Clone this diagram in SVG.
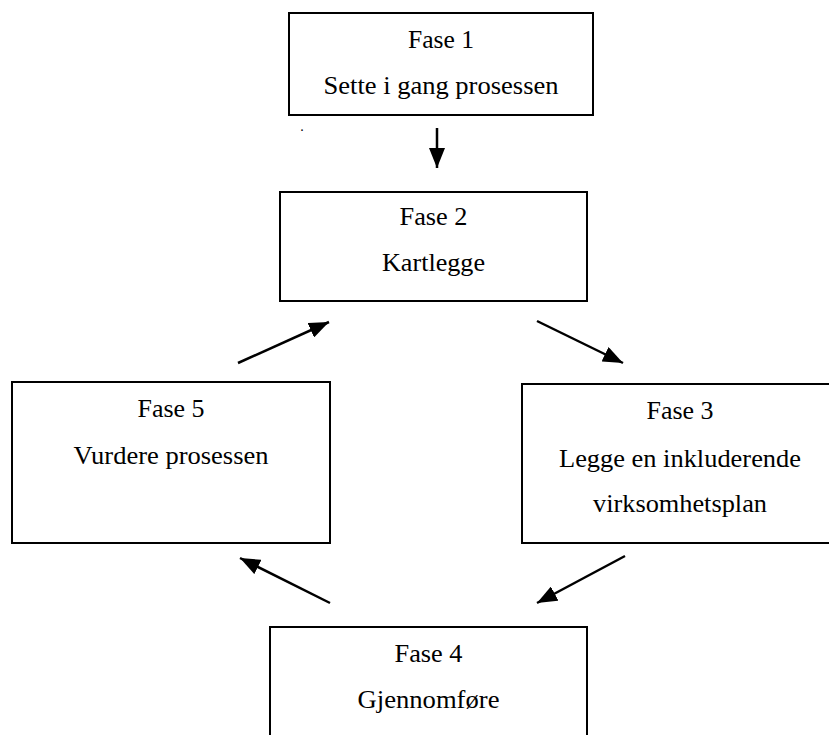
<svg xmlns="http://www.w3.org/2000/svg" width="829" height="735" viewBox="0 0 829 735">
  <style>
    .box { fill: #ffffff; stroke: #000000; stroke-width: 2; }
    .lbl { font-family: "Liberation Serif", "Times New Roman", serif; font-size: 24.5px; fill: #000000; text-anchor: middle; }
    .conn { stroke: #000000; stroke-width: 2.5; fill: none; marker-end: url(#head); }
  </style>
  <defs>
    <marker id="head" markerUnits="userSpaceOnUse" markerWidth="20" markerHeight="16" refX="20" refY="8" orient="auto">
      <path d="M0,0 L20,8 L0,16 Z" fill="#000000"/>
    </marker>
  </defs>
  <rect width="829" height="735" fill="#ffffff"/>

  <g id="fase1">
    <rect class="box" x="289" y="13" width="304" height="102"/>
    <text class="lbl" x="441" y="48" textLength="66" lengthAdjust="spacingAndGlyphs">Fase 1</text>
    <text class="lbl" x="441" y="94" textLength="235" lengthAdjust="spacingAndGlyphs">Sette i gang prosessen</text>
  </g>

  <g id="fase2">
    <rect class="box" x="280" y="192" width="307" height="109"/>
    <text class="lbl" x="433.5" y="225" textLength="68" lengthAdjust="spacingAndGlyphs">Fase 2</text>
    <text class="lbl" x="433.5" y="271" textLength="103" lengthAdjust="spacingAndGlyphs">Kartlegge</text>
  </g>

  <g id="fase3">
    <rect class="box" x="522" y="384" width="316" height="159"/>
    <text class="lbl" x="680" y="419" textLength="67" lengthAdjust="spacingAndGlyphs">Fase 3</text>
    <text class="lbl" x="680" y="467" textLength="242" lengthAdjust="spacingAndGlyphs">Legge en inkluderende</text>
    <text class="lbl" x="680" y="512" textLength="174" lengthAdjust="spacingAndGlyphs">virksomhetsplan</text>
  </g>

  <g id="fase4">
    <rect class="box" x="270" y="627" width="317" height="130"/>
    <text class="lbl" x="428.5" y="662" textLength="68" lengthAdjust="spacingAndGlyphs">Fase 4</text>
    <text class="lbl" x="428.5" y="708" textLength="142" lengthAdjust="spacingAndGlyphs">Gjennomføre</text>
  </g>

  <g id="fase5">
    <rect class="box" x="12" y="382" width="318" height="161"/>
    <text class="lbl" x="171" y="417" textLength="67" lengthAdjust="spacingAndGlyphs">Fase 5</text>
    <text class="lbl" x="171" y="464" textLength="195" lengthAdjust="spacingAndGlyphs">Vurdere prosessen</text>
  </g>

  <text class="lbl" x="302" y="131" style="font-size:14px">.</text>

  <g id="connectors">
    <line class="conn" x1="437" y1="128" x2="437" y2="168"/>
    <line class="conn" x1="238" y1="363" x2="329" y2="322"/>
    <line class="conn" x1="537" y1="321" x2="623" y2="363"/>
    <line class="conn" x1="625" y1="556" x2="537" y2="603"/>
    <line class="conn" x1="330" y1="603" x2="240" y2="558"/>
  </g>
</svg>
